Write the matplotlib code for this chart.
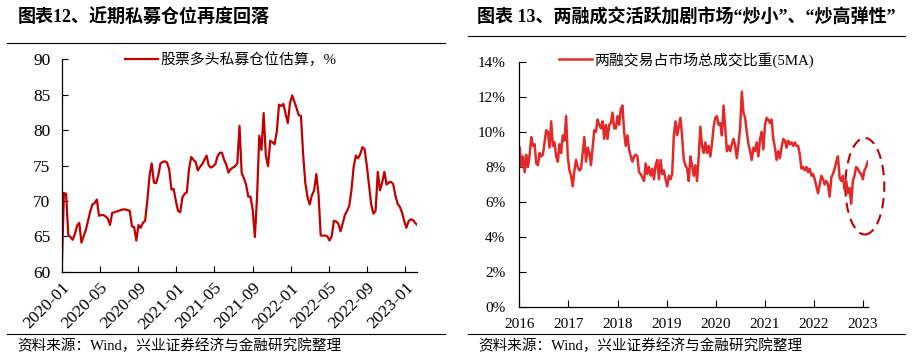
import matplotlib
matplotlib.use('Agg')
import matplotlib.pyplot as plt
import matplotlib.dates as mdates
from matplotlib.patches import Ellipse
from matplotlib.lines import Line2D
from matplotlib.ticker import FuncFormatter
import pandas as pd

plt.rcParams['font.family'] = ['Liberation Serif', 'Noto Sans CJK SC']

# ---------------- data ----------------
left_title = "图表12、近期私募仓位再度回落"
right_title = "图表 13、两融成交活跃加剧市场“炒小”、“炒高弹性”"
left_legend = "股票多头私募仓位估算，%"
right_legend = "两融交易占市场总成交比重(5MA)"
source_text = "资料来源：Wind，兴业证券经济与金融研究院整理"

# weekly private-fund equity position estimate (%), from 2020-01
left_start = "2020-01-01"
priv_pos = [
    60.0, 71.1, 71.0, 65.2, 64.9, 64.5, 65.3, 66.5, 66.9, 64.1,
    65.0, 65.9, 67.2, 68.5, 69.5, 69.7, 70.2, 67.9, 68.0, 68.0,
    67.8, 67.5, 66.6, 68.3, 68.4, 68.5, 68.6, 68.7, 68.8, 68.8,
    68.7, 68.6, 66.4, 66.3, 64.4, 66.6, 66.2, 66.9, 67.2, 70.0,
    73.5, 75.3, 72.6, 72.5, 73.6, 75.3, 75.5, 75.6, 75.4, 74.4,
    71.6, 71.7, 70.0, 68.6, 68.4, 70.5, 71.0, 71.2, 74.5, 76.2,
    75.8, 75.5, 74.3, 74.8, 75.2, 75.8, 76.4, 75.0, 74.7, 74.9,
    75.2, 76.3, 76.8, 76.8, 75.8, 75.1, 74.0, 74.5, 74.7, 74.9,
    75.3, 80.6, 73.9, 73.2, 72.3, 70.6, 70.6, 68.8, 64.9, 70.6,
    79.2, 77.2, 82.4, 76.4, 74.9, 78.5, 78.3, 78.0, 79.8, 83.6,
    83.4, 83.7, 82.3, 81.0, 83.8, 84.9, 84.0, 83.1, 82.1, 82.0,
    76.5, 72.5, 70.5, 69.5, 70.8, 71.5, 73.8, 70.9, 65.1, 65.1,
    65.1, 65.0, 64.4, 65.0, 67.2, 67.1, 66.8, 65.7, 66.8, 68.0,
    68.6, 69.3, 71.5, 74.8, 76.4, 76.0, 76.6, 77.6, 77.3, 75.0,
    72.3, 69.5, 68.2, 68.6, 74.1, 71.5, 72.6, 74.1, 72.3, 72.6,
    72.7, 72.4, 70.8, 69.6, 69.2, 68.4, 67.2, 66.2, 67.1, 67.4,
    67.3, 66.9, 66.6,
]

# margin trading share of total turnover (5MA, %), sampled from 2016-01 to 2023-02
right_start = "2016-01-04"
right_end = "2023-02-06"
margin_share = [
    # 2016 - early 2018
    9.1, 8.0, 8.6, 7.7, 8.7, 8.0, 8.7, 9.7, 9.2, 9.3,
    8.2, 8.1, 8.8, 8.6, 8.7, 9.4, 10.1, 10.0, 9.1, 10.6,
    9.2, 9.4, 8.6, 8.3, 9.3, 8.8, 9.8, 9.5, 10.9, 8.6,
    7.8, 7.5, 6.9, 7.8, 8.4, 8.0, 7.8, 7.9, 8.8, 9.7,
    8.3, 9.1, 8.8, 8.1, 9.1, 10.1, 10.0, 10.7, 10.4, 10.2,
    10.6, 9.6, 10.4, 9.6, 10.4, 10.5, 11.1, 10.2, 10.2, 10.9,
    10.4, 11.3, 11.5, 10.0, 9.2, 9.8, 9.0, 8.6, 8.3,
    # 2018 - mid 2020
    8.6, 8.7, 8.6, 7.7, 7.6, 7.4, 7.2, 8.2, 7.6, 8.0,
    7.5, 7.9, 7.3, 8.1, 8.4, 7.3, 8.4, 7.6, 7.8, 7.3,
    6.9, 7.5, 7.3, 7.6, 9.8, 10.6, 9.8, 10.3, 10.8, 9.7,
    8.4, 8.1, 7.9, 7.2, 8.6, 8.1, 7.5, 8.1, 7.2, 8.6,
    10.3, 9.2, 8.8, 9.4, 8.8, 9.2, 8.6, 9.3, 10.3, 10.8,
    10.9, 10.4, 10.5, 9.8, 11.5, 10.2, 8.9, 9.2, 8.9, 9.3,
    9.6, 9.2, 8.5, 9.3, 10.2, 12.3, 11.1, 10.8, 10.0, 9.3,
    8.9,
    # mid 2020 - 2023
    8.4, 9.1, 8.9, 9.4, 8.6, 9.6, 10.0, 9.0, 10.4, 10.8,
    10.7, 10.5, 10.7, 9.6, 9.1, 8.4, 8.9, 8.5, 9.1, 9.6,
    9.5, 9.1, 9.5, 9.3, 9.4, 9.2, 9.4, 9.2, 9.2, 8.7,
    7.9, 8.0, 7.8, 8.0, 7.7, 7.9, 7.5, 7.6, 7.3, 6.9,
    6.5, 7.0, 7.5, 7.3, 7.0, 7.2, 7.0, 6.3, 7.4, 7.6,
    7.9, 8.3, 8.6, 7.4, 7.2, 7.5, 6.7, 7.2, 6.5, 6.8,
    5.9, 7.2, 7.5, 8.0, 7.9, 7.7, 7.6, 7.3, 7.8, 8.0,
    8.3,
]

# highlighted region (dashed ellipse): centre date, centre value, width (days), height (%)
ellipse_center_date = "2023-01-15"
ellipse_center_val = 6.9
ellipse_width_days = 290
ellipse_height_val = 5.5

left_yticks = [60, 65, 70, 75, 80, 85, 90]
right_yticks = [0, 2, 4, 6, 8, 10, 12, 14]

# ---------------- figure ----------------
W, H = 913, 360
fig = plt.figure(figsize=(W / 100, H / 100), dpi=100)

def fx(px):
    return px / W

def fy(py):
    return 1 - py / H

LEFT_COLOR = '#C00000'
RIGHT_COLOR = '#E32A2A'

# ---- left chart ----
axL = fig.add_axes([fx(61.7), fy(271.7), fx(417.3) - fx(61.7), fy(59.3) - fy(271.7)])
dL = pd.date_range(left_start, periods=len(priv_pos), freq='7D')
axL.plot(dL, priv_pos, color=LEFT_COLOR, lw=1.6, label=left_legend, solid_joinstyle='round')
axL.set_ylim(60, 90)
axL.set_yticks(left_yticks)
axL.set_xlim(dL[0], dL[-1])
axL.xaxis.set_major_locator(mdates.MonthLocator(bymonth=[1, 5, 9]))
axL.xaxis.set_major_formatter(mdates.DateFormatter('%Y-%m'))
for lab in axL.get_xticklabels():
    lab.set_rotation(45)
    lab.set_ha('right')
    lab.set_rotation_mode('anchor')
axL.tick_params(axis='both', direction='in', length=4, width=0.8, labelsize=12.5, colors='black')
axL.tick_params(axis='x', pad=6)
axL.tick_params(axis='y', pad=8)
for s in ['top', 'right']:
    axL.spines[s].set_visible(False)
for s in ['left', 'bottom']:
    axL.spines[s].set_linewidth(0.9)
axL.legend(loc='center', bbox_to_anchor=(0.475, 0.997), frameon=False,
           fontsize=10.7, handlelength=2.2, handletextpad=0.15, borderaxespad=0)

# ---- right chart ----
axR = fig.add_axes([fx(519.3), fy(307.3), fx(868.3) - fx(519.3), fy(61.7) - fy(307.3)])
dR = pd.date_range(right_start, right_end, periods=len(margin_share))
axR.plot(dR, margin_share, color=RIGHT_COLOR, lw=1.8, label=right_legend, solid_joinstyle='round')
axR.set_ylim(0, 14)
axR.set_yticks(right_yticks)
axR.yaxis.set_major_formatter(FuncFormatter(lambda v, p: f"{v:.0f}%"))
axR.set_xlim(pd.Timestamp('2016-01-01'), pd.Timestamp('2023-02-10'))
axR.xaxis.set_major_locator(mdates.YearLocator())
axR.xaxis.set_major_formatter(mdates.DateFormatter('%Y'))
axR.tick_params(axis='both', direction='in', length=5, width=0.8, labelsize=11, colors='black')
axR.tick_params(axis='x', pad=8)
axR.tick_params(axis='y', pad=10)
for s in ['top', 'right']:
    axR.spines[s].set_visible(False)
for s in ['left', 'bottom']:
    axR.spines[s].set_linewidth(0.9)
axR.legend(loc='center', bbox_to_anchor=(0.478, 1.007), frameon=False,
           fontsize=10.7, handlelength=2.2, handletextpad=0.15, borderaxespad=0)

ell = Ellipse((mdates.date2num(pd.Timestamp(ellipse_center_date)), ellipse_center_val),
              width=ellipse_width_days, height=ellipse_height_val,
              fill=False, edgecolor=LEFT_COLOR, lw=1.5, linestyle=(0, (5, 3)), clip_on=False)
axR.add_patch(ell)

# ---- titles, rules, source notes ----
fig.text(fx(18), fy(17.5), left_title, fontsize=13, fontweight='bold', ha='left', va='center')
fig.text(fx(477), fy(17.5), right_title, fontsize=13, fontweight='bold', ha='left', va='center')
fig.add_artist(Line2D([fx(7), fx(445)], [fy(43.3)] * 2, color='black', lw=0.8))
fig.add_artist(Line2D([fx(468), fx(905)], [fy(35.7)] * 2, color='black', lw=0.8))
fig.add_artist(Line2D([fx(7), fx(445)], [fy(334.3)] * 2, color='black', lw=0.8))
fig.add_artist(Line2D([fx(468), fx(905)], [fy(334.3)] * 2, color='black', lw=0.8))
fig.text(fx(17), fy(346), source_text, fontsize=10.5, ha='left', va='center')
fig.text(fx(478), fy(346), source_text, fontsize=10.5, ha='left', va='center')

fig.savefig('out.png', dpi=100)
